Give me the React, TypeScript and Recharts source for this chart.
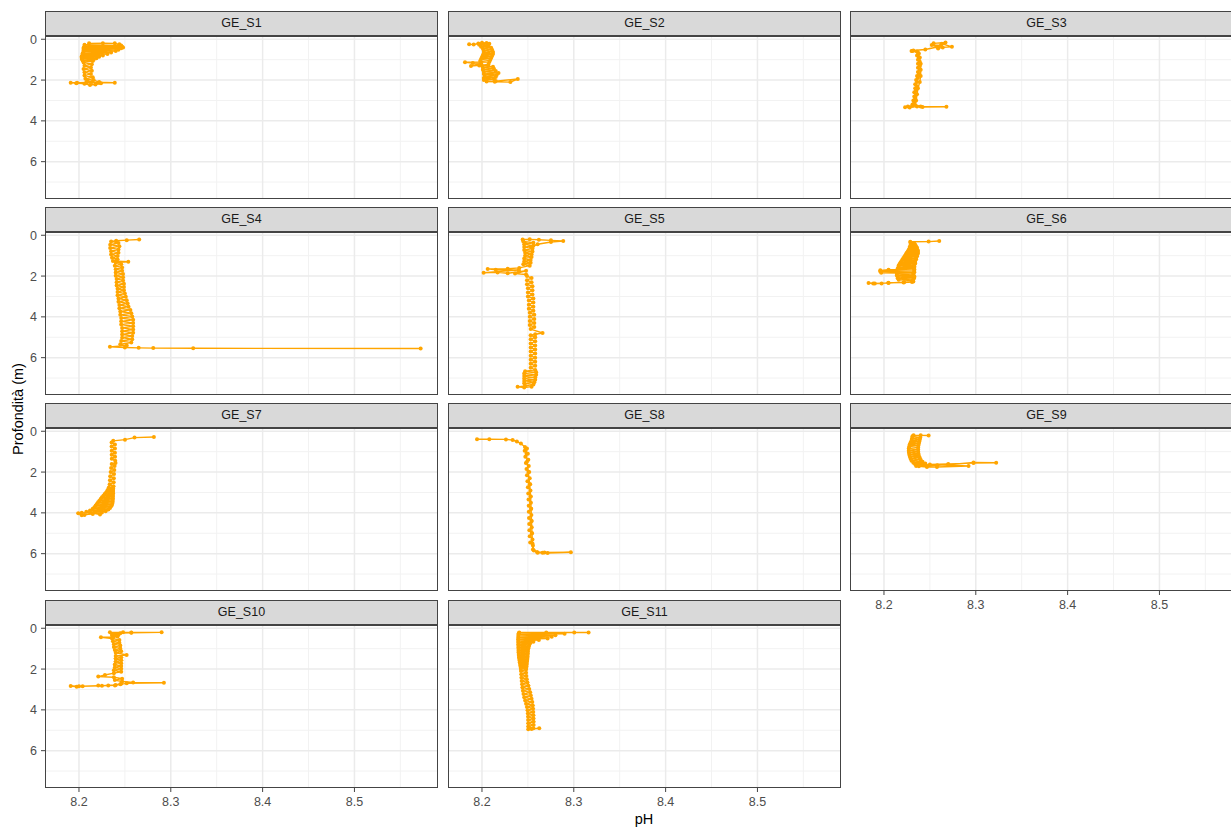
import { ScatterChart, Scatter, XAxis, YAxis, CartesianGrid } from "recharts"

type Pt = [number, number] // [pH, depth m]

const GE_S1: Pt[] = [
  [8.211, 0.2], [8.226, 0.19], [8.239, 0.2], [8.244, 0.25], [8.248, 0.4],
  [8.206, 0.27], [8.246, 0.3], [8.206, 0.34], [8.247, 0.37], [8.205, 0.41],
  [8.246, 0.44], [8.205, 0.48], [8.243, 0.51], [8.205, 0.55], [8.24, 0.58],
  [8.205, 0.62], [8.235, 0.65], [8.204, 0.69], [8.231, 0.72], [8.204, 0.76],
  [8.226, 0.79], [8.203, 0.83], [8.222, 0.86], [8.203, 0.9], [8.219, 0.93],
  [8.203, 0.97], [8.216, 1.0], [8.204, 1.04], [8.215, 1.07], [8.205, 1.14],
  [8.214, 1.22], [8.206, 1.3], [8.213, 1.38], [8.205, 1.46], [8.214, 1.54],
  [8.206, 1.62], [8.213, 1.7], [8.206, 1.78], [8.215, 1.86], [8.207, 1.94],
  [8.216, 2.0], [8.222, 2.1], [8.239, 2.13], [8.222, 2.13], [8.208, 2.12],
  [8.198, 2.13], [8.191, 2.13], [8.197, 2.15], [8.206, 2.18], [8.212, 2.24],
  [8.218, 2.22], [8.224, 2.16], [8.214, 2.1], [8.209, 2.02],
]

const GE_S2: Pt[] = [
  [8.186, 0.25], [8.191, 0.26], [8.196, 0.21], [8.2, 0.17], [8.205, 0.18],
  [8.208, 0.22], [8.197, 0.27], [8.207, 0.32], [8.199, 0.37], [8.21, 0.42],
  [8.201, 0.47], [8.211, 0.52], [8.202, 0.57], [8.212, 0.62], [8.202, 0.67],
  [8.212, 0.72], [8.201, 0.77], [8.211, 0.82], [8.2, 0.87], [8.21, 0.92],
  [8.199, 0.97], [8.209, 1.02], [8.198, 1.07], [8.208, 1.12], [8.1815, 1.13],
  [8.19, 1.16], [8.199, 1.18], [8.188, 1.31], [8.197, 1.28], [8.207, 1.24],
  [8.2, 1.3], [8.212, 1.35], [8.201, 1.4], [8.213, 1.45], [8.201, 1.5],
  [8.215, 1.55], [8.202, 1.6], [8.218, 1.65], [8.202, 1.7], [8.216, 1.75],
  [8.203, 1.8], [8.215, 1.85], [8.202, 1.9], [8.213, 1.95], [8.202, 2.0],
  [8.215, 2.05], [8.239, 1.95], [8.231, 2.1], [8.214, 2.08], [8.205, 2.07],
]

const GE_S3: Pt[] = [
  [8.254, 0.2], [8.267, 0.16], [8.263, 0.22], [8.274, 0.37], [8.264, 0.4],
  [8.259, 0.45], [8.262, 0.3], [8.252, 0.28], [8.258, 0.38], [8.245, 0.5],
  [8.232, 0.55], [8.23, 0.58], [8.236, 0.6], [8.238, 0.7], [8.236, 0.8],
  [8.238, 0.9], [8.237, 1.0], [8.239, 1.1], [8.237, 1.2], [8.239, 1.3],
  [8.237, 1.4], [8.239, 1.5], [8.237, 1.6], [8.238, 1.7], [8.236, 1.8],
  [8.237, 1.9], [8.235, 2.0], [8.236, 2.1], [8.234, 2.2], [8.236, 2.3],
  [8.234, 2.4], [8.235, 2.5], [8.233, 2.6], [8.235, 2.7], [8.233, 2.8],
  [8.234, 2.9], [8.232, 3.0], [8.233, 3.1], [8.231, 3.2], [8.231, 3.26],
  [8.226, 3.3], [8.223, 3.33], [8.228, 3.34], [8.236, 3.3], [8.242, 3.32],
  [8.268, 3.31], [8.24, 3.3], [8.234, 3.22], [8.235, 3.0], [8.236, 2.7],
  [8.237, 2.4], [8.239, 2.1], [8.24, 1.8], [8.24, 1.5], [8.24, 1.2],
  [8.239, 0.9], [8.237, 0.65], [8.231, 0.58],
]

const GE_S4: Pt[] = [
  [8.2656, 0.21], [8.252, 0.24], [8.2405, 0.27], [8.235, 0.3], [8.243, 0.38],
  [8.234, 0.46], [8.244, 0.54], [8.234, 0.62], [8.243, 0.7], [8.235, 0.78],
  [8.243, 0.86], [8.235, 0.94], [8.242, 1.02], [8.236, 1.1], [8.242, 1.18],
  [8.237, 1.26], [8.2537, 1.3], [8.24, 1.34], [8.246, 1.42], [8.239, 1.5],
  [8.247, 1.58], [8.24, 1.66], [8.247, 1.74], [8.24, 1.82], [8.248, 1.9],
  [8.24, 1.98], [8.248, 2.06], [8.241, 2.14], [8.248, 2.22], [8.241, 2.3],
  [8.249, 2.38], [8.241, 2.46], [8.249, 2.54], [8.242, 2.62], [8.249, 2.7],
  [8.242, 2.78], [8.25, 2.86], [8.242, 2.94], [8.251, 3.02], [8.243, 3.1],
  [8.252, 3.18], [8.243, 3.26], [8.253, 3.34], [8.244, 3.42], [8.254, 3.5],
  [8.244, 3.58], [8.256, 3.66], [8.245, 3.74], [8.257, 3.82], [8.245, 3.9],
  [8.258, 3.98], [8.246, 4.06], [8.259, 4.14], [8.246, 4.22], [8.259, 4.3],
  [8.246, 4.38], [8.259, 4.46], [8.247, 4.54], [8.259, 4.62], [8.247, 4.7],
  [8.259, 4.78], [8.247, 4.86], [8.258, 4.94], [8.247, 5.02], [8.258, 5.1],
  [8.246, 5.18], [8.257, 5.26], [8.245, 5.34], [8.252, 5.4], [8.2337, 5.47],
  [8.25, 5.5], [8.265, 5.52], [8.2809, 5.53], [8.3244, 5.54], [8.5721, 5.55],
]

const GE_S5: Pt[] = [
  [8.2443, 0.21], [8.252, 0.2], [8.262, 0.22], [8.2751, 0.25], [8.2885, 0.28],
  [8.2751, 0.33], [8.2606, 0.44], [8.2533, 0.57], [8.245, 0.3], [8.256, 0.37],
  [8.246, 0.44], [8.256, 0.51], [8.246, 0.58], [8.255, 0.65], [8.246, 0.72],
  [8.255, 0.79], [8.247, 0.86], [8.254, 0.93], [8.247, 1.0], [8.254, 1.07],
  [8.246, 1.14], [8.253, 1.21], [8.246, 1.28], [8.253, 1.35], [8.245, 1.42],
  [8.252, 1.49], [8.2406, 1.6], [8.228, 1.64], [8.2062, 1.65], [8.215, 1.69],
  [8.24, 1.7], [8.2018, 1.84], [8.217, 1.82], [8.228, 1.86], [8.2406, 1.79],
  [8.248, 1.74], [8.236, 1.88], [8.248, 1.92], [8.249, 2.0], [8.254, 2.1],
  [8.249, 2.2], [8.254, 2.3], [8.249, 2.4], [8.255, 2.5], [8.25, 2.6],
  [8.255, 2.7], [8.25, 2.8], [8.255, 2.9], [8.25, 3.0], [8.256, 3.1],
  [8.251, 3.2], [8.256, 3.3], [8.251, 3.4], [8.256, 3.5], [8.251, 3.6],
  [8.256, 3.7], [8.252, 3.8], [8.257, 3.9], [8.252, 4.0], [8.257, 4.1],
  [8.252, 4.2], [8.257, 4.3], [8.252, 4.4], [8.257, 4.5], [8.253, 4.6],
  [8.266, 4.79], [8.258, 4.85], [8.253, 4.9], [8.258, 5.0], [8.253, 5.1],
  [8.258, 5.2], [8.253, 5.3], [8.258, 5.4], [8.253, 5.5], [8.258, 5.6],
  [8.253, 5.7], [8.258, 5.8], [8.253, 5.9], [8.258, 6.0], [8.253, 6.1],
  [8.258, 6.2], [8.253, 6.3], [8.258, 6.4], [8.253, 6.5], [8.258, 6.6],
  [8.247, 6.66], [8.259, 6.72], [8.246, 6.78], [8.259, 6.84], [8.246, 6.9],
  [8.258, 6.96], [8.246, 7.02], [8.258, 7.08], [8.246, 7.14], [8.257, 7.2],
  [8.246, 7.26], [8.256, 7.32], [8.247, 7.38], [8.2388, 7.43], [8.246, 7.46],
  [8.254, 7.42],
]

const GE_S6: Pt[] = [
  [8.2602, 0.28], [8.2486, 0.31], [8.2286, 0.32], [8.229, 0.36], [8.233, 0.4],
  [8.229, 0.43], [8.234, 0.47], [8.229, 0.5], [8.235, 0.54], [8.228, 0.57],
  [8.236, 0.61], [8.228, 0.64], [8.236, 0.68], [8.227, 0.71], [8.237, 0.75],
  [8.226, 0.78], [8.237, 0.82], [8.225, 0.85], [8.237, 0.89], [8.224, 0.92],
  [8.236, 0.96], [8.223, 0.99], [8.236, 1.03], [8.222, 1.06], [8.235, 1.1],
  [8.221, 1.13], [8.235, 1.17], [8.22, 1.2], [8.234, 1.24], [8.219, 1.27],
  [8.234, 1.31], [8.218, 1.34], [8.234, 1.38], [8.217, 1.41], [8.233, 1.45],
  [8.216, 1.48], [8.233, 1.52], [8.216, 1.55], [8.233, 1.59], [8.215, 1.62],
  [8.233, 1.66], [8.205, 1.69], [8.196, 1.72], [8.233, 1.75], [8.196, 1.78],
  [8.233, 1.81], [8.197, 1.84], [8.232, 1.87], [8.214, 1.9], [8.232, 1.94],
  [8.214, 1.97], [8.233, 2.01], [8.215, 2.04], [8.233, 2.08], [8.215, 2.11],
  [8.232, 2.15], [8.216, 2.18], [8.231, 2.22], [8.2305, 2.29], [8.2213, 2.32],
  [8.2047, 2.33], [8.1974, 2.37], [8.1883, 2.37], [8.1832, 2.34], [8.19, 2.36],
  [8.205, 2.34], [8.222, 2.3], [8.232, 2.27],
]

const GE_S7: Pt[] = [
  [8.2816, 0.28], [8.2605, 0.31], [8.2501, 0.41], [8.2373, 0.47], [8.2355, 0.55],
  [8.2392, 0.65], [8.2355, 0.75], [8.2392, 0.85], [8.2356, 0.95], [8.2392, 1.05],
  [8.2356, 1.15], [8.2393, 1.25], [8.2357, 1.35], [8.2395, 1.45], [8.2398, 1.55],
  [8.2356, 1.6], [8.2388, 1.7], [8.235, 1.8], [8.2385, 1.9], [8.2345, 2.0],
  [8.2382, 2.1], [8.234, 2.2], [8.238, 2.3], [8.2337, 2.4], [8.2378, 2.5],
  [8.2334, 2.6], [8.2376, 2.7], [8.2325, 2.76], [8.2372, 2.8], [8.2318, 2.84],
  [8.2372, 2.88], [8.2308, 2.92], [8.2371, 2.96], [8.2295, 3.0], [8.2371, 3.04],
  [8.228, 3.08], [8.237, 3.12], [8.2266, 3.16], [8.237, 3.2], [8.225, 3.24],
  [8.2369, 3.28], [8.2236, 3.32], [8.2368, 3.36], [8.2222, 3.4], [8.2366, 3.44],
  [8.2208, 3.48], [8.2365, 3.52], [8.2195, 3.56], [8.236, 3.6], [8.2182, 3.64],
  [8.235, 3.68], [8.2168, 3.72], [8.2338, 3.76], [8.215, 3.8], [8.232, 3.84],
  [8.212, 3.88], [8.229, 3.92], [8.208, 3.95], [8.225, 3.98], [8.215, 4.05],
  [8.206, 4.1], [8.203, 4.12], [8.1992, 4.02], [8.203, 4.0], [8.212, 3.98],
  [8.2229, 4.08],
]

const GE_S8: Pt[] = [
  [8.1946, 0.39], [8.208, 0.39], [8.2261, 0.4], [8.2334, 0.43], [8.238, 0.5],
  [8.2424, 0.6], [8.2468, 0.77], [8.2465, 0.95], [8.25, 1.1], [8.2472, 1.25],
  [8.2505, 1.4], [8.2478, 1.55], [8.251, 1.7], [8.2485, 1.85], [8.2515, 2.0],
  [8.249, 2.15], [8.252, 2.3], [8.2495, 2.45], [8.2525, 2.6], [8.25, 2.75],
  [8.2528, 2.9], [8.2504, 3.05], [8.253, 3.2], [8.2507, 3.35], [8.2533, 3.5],
  [8.2509, 3.65], [8.2536, 3.8], [8.251, 3.95], [8.2538, 4.1], [8.2512, 4.25],
  [8.254, 4.4], [8.2514, 4.55], [8.2542, 4.7], [8.2516, 4.85], [8.2544, 5.0],
  [8.252, 5.15], [8.255, 5.3], [8.2525, 5.45], [8.2555, 5.6], [8.2565, 5.85],
  [8.2606, 5.96], [8.266, 5.95], [8.2715, 5.97], [8.2968, 5.93], [8.268, 5.94],
  [8.26, 5.92], [8.2555, 5.8], [8.255, 5.5], [8.2545, 5.0], [8.254, 4.4],
  [8.2535, 3.8], [8.253, 3.2], [8.252, 2.6], [8.2505, 2.0], [8.249, 1.5],
  [8.2485, 1.1], [8.249, 0.85],
]

const GE_S9: Pt[] = [
  [8.2486, 0.21], [8.24, 0.2], [8.2322, 0.2], [8.231, 0.25], [8.2395, 0.3],
  [8.2305, 0.35], [8.239, 0.4], [8.23, 0.45], [8.2385, 0.5], [8.229, 0.55],
  [8.238, 0.6], [8.228, 0.65], [8.2375, 0.7], [8.2275, 0.75], [8.2372, 0.8],
  [8.227, 0.85], [8.2372, 0.9], [8.227, 0.95], [8.2373, 1.0], [8.2272, 1.05],
  [8.2376, 1.1], [8.2276, 1.15], [8.238, 1.2], [8.2282, 1.25], [8.239, 1.3],
  [8.229, 1.35], [8.24, 1.4], [8.23, 1.45], [8.242, 1.5], [8.232, 1.54],
  [8.245, 1.58], [8.234, 1.62], [8.258, 1.66], [8.235, 1.7], [8.27, 1.64],
  [8.2975, 1.53], [8.3222, 1.54], [8.2975, 1.56], [8.27, 1.6], [8.25, 1.63],
  [8.2921, 1.7], [8.2577, 1.75], [8.2468, 1.75], [8.238, 1.72],
]

const GE_S10: Pt[] = [
  [8.2337, 0.2], [8.248, 0.2], [8.257, 0.21], [8.29, 0.2], [8.257, 0.22],
  [8.245, 0.24], [8.236, 0.28], [8.243, 0.32], [8.236, 0.36], [8.242, 0.4],
  [8.2373, 0.44], [8.2239, 0.44], [8.236, 0.5], [8.244, 0.57], [8.237, 0.64],
  [8.244, 0.71], [8.238, 0.78], [8.245, 0.85], [8.238, 0.92], [8.245, 0.99],
  [8.239, 1.06], [8.246, 1.13], [8.24, 1.2], [8.2519, 1.31], [8.24, 1.36],
  [8.246, 1.43], [8.24, 1.5], [8.246, 1.57], [8.24, 1.64], [8.246, 1.71],
  [8.239, 1.78], [8.246, 1.85], [8.239, 1.92], [8.246, 1.99], [8.238, 2.06],
  [8.246, 2.13], [8.238, 2.2], [8.2283, 2.29], [8.221, 2.37], [8.238, 2.4],
  [8.247, 2.47], [8.239, 2.54], [8.247, 2.61], [8.259, 2.66], [8.2925, 2.67],
  [8.252, 2.7], [8.245, 2.75], [8.2392, 2.8], [8.2319, 2.81], [8.221, 2.81],
  [8.204, 2.84], [8.1975, 2.87], [8.191, 2.83], [8.2, 2.84], [8.225, 2.82],
  [8.24, 2.78], [8.246, 2.72],
]

const GE_S11: Pt[] = [
  [8.3161, 0.21], [8.3005, 0.21], [8.27, 0.21], [8.2406, 0.21], [8.24, 0.24],
  [8.29, 0.27], [8.2398, 0.3], [8.28, 0.34], [8.2396, 0.38], [8.276, 0.42],
  [8.2395, 0.46], [8.2715, 0.5], [8.2395, 0.54], [8.262, 0.58], [8.2395, 0.62],
  [8.256, 0.66], [8.2396, 0.7], [8.2525, 0.74], [8.2396, 0.78], [8.2515, 0.82],
  [8.2397, 0.86], [8.251, 0.9], [8.2397, 0.94], [8.2505, 0.98], [8.2398, 1.02],
  [8.25, 1.06], [8.2398, 1.1], [8.25, 1.14], [8.2399, 1.18], [8.2498, 1.22],
  [8.24, 1.26], [8.2497, 1.3], [8.2402, 1.34], [8.2496, 1.38], [8.2404, 1.42],
  [8.2495, 1.46], [8.2406, 1.5], [8.2493, 1.54], [8.2409, 1.58], [8.249, 1.62],
  [8.2412, 1.66], [8.2488, 1.7], [8.2415, 1.74], [8.2486, 1.78], [8.2418, 1.82],
  [8.2484, 1.86], [8.2421, 1.9], [8.2482, 1.94], [8.2423, 1.98], [8.248, 2.02],
  [8.2425, 2.1], [8.248, 2.18], [8.2428, 2.26], [8.2483, 2.34], [8.243, 2.42],
  [8.2488, 2.5], [8.2433, 2.58], [8.2495, 2.66], [8.2437, 2.74], [8.2505, 2.82],
  [8.2441, 2.9], [8.2515, 2.98], [8.2446, 3.06], [8.2525, 3.14], [8.2452, 3.22],
  [8.2532, 3.3], [8.246, 3.38], [8.254, 3.46], [8.247, 3.54], [8.2548, 3.62],
  [8.248, 3.7], [8.2553, 3.78], [8.249, 3.86], [8.2556, 3.94], [8.2497, 4.02],
  [8.2558, 4.1], [8.25, 4.18], [8.256, 4.26], [8.2502, 4.34], [8.2561, 4.42],
  [8.2503, 4.5], [8.2562, 4.58], [8.2504, 4.66], [8.2562, 4.74], [8.2504, 4.82],
  [8.256, 4.9], [8.2504, 4.95], [8.2624, 4.9], [8.254, 4.94],
]

const STATIONS: { name: string; data: Pt[] }[] = [
  { name: "GE_S1", data: GE_S1 },
  { name: "GE_S2", data: GE_S2 },
  { name: "GE_S3", data: GE_S3 },
  { name: "GE_S4", data: GE_S4 },
  { name: "GE_S5", data: GE_S5 },
  { name: "GE_S6", data: GE_S6 },
  { name: "GE_S7", data: GE_S7 },
  { name: "GE_S8", data: GE_S8 },
  { name: "GE_S9", data: GE_S9 },
  { name: "GE_S10", data: GE_S10 },
  { name: "GE_S11", data: GE_S11 },
]

const PH_TICKS = [8.2, 8.3, 8.4, 8.5]
const PH_MINOR = [8.25, 8.35, 8.45, 8.55]
const DEPTH_TICKS = [0, 2, 4, 6]
const DEPTH_MINOR = [1, 3, 5, 7]
const PH_DOMAIN: [number, number] = [8.163, 8.591]
const DEPTH_DOMAIN: [number, number] = [-0.16, 7.83]

// facet grid geometry (px)
const COL_LEFT = [45, 448, 850]
const PANEL_TOP = [36, 232, 428, 625]
const PANEL_W = 393
const PANEL_H = 163
const STRIP_H = 25
const Y_AXIS_W = 45
const X_AXIS_H = 30

const ORANGE = "#FFA500"
const FONT = '"Liberation Sans", Arial, sans-serif'
const FRAME = "#444444"

const Dot = (p: any) => <circle cx={p.cx} cy={p.cy} r={2} fill={ORANGE} />
const NoTick = () => <g />

function Panel({ name, data, col, row, showX, showY }: {
  name: string
  data: Pt[]
  col: number
  row: number
  showX: boolean
  showY: boolean
}) {
  const left = COL_LEFT[col]
  const top = PANEL_TOP[row]
  const points = data.map(([ph, depth]) => ({ ph, depth }))
  const tick = { fill: "#4D4D4D", fontSize: 12.5, fontFamily: FONT }

  return (
    <>
      <div style={{ position: "absolute", left: left - Y_AXIS_W, top: top - STRIP_H }}>
        <ScatterChart
          width={Y_AXIS_W + PANEL_W}
          height={STRIP_H + PANEL_H + X_AXIS_H}
          margin={{ top: STRIP_H, right: 0, bottom: 0, left: 0 }}
        >
          <CartesianGrid stroke="#F2F2F2" strokeWidth={1} verticalValues={PH_MINOR} horizontalValues={DEPTH_MINOR} />
          <CartesianGrid stroke="#EBEBEB" strokeWidth={1.5} verticalValues={PH_TICKS} horizontalValues={DEPTH_TICKS} />
          <XAxis
            type="number"
            dataKey="ph"
            domain={PH_DOMAIN}
            ticks={PH_TICKS}
            interval={0}
            allowDataOverflow
            height={X_AXIS_H}
            axisLine={false}
            tickLine={{ stroke: showX ? FRAME : "none" }}
            tick={showX ? tick : NoTick}
            tickSize={4}
            tickMargin={5}
          />
          <YAxis
            type="number"
            dataKey="depth"
            domain={DEPTH_DOMAIN}
            ticks={DEPTH_TICKS}
            interval={0}
            reversed
            allowDataOverflow
            width={Y_AXIS_W}
            axisLine={false}
            tickLine={{ stroke: showY ? FRAME : "none" }}
            tick={showY ? tick : NoTick}
            tickSize={4}
            tickMargin={4}
          />
          <Scatter
            data={points}
            line={{ stroke: ORANGE, strokeWidth: 1.4 }}
            lineType="joint"
            fill={ORANGE}
            shape={Dot}
            isAnimationActive={false}
          />
        </ScatterChart>
      </div>
      <div
        style={{
          position: "absolute",
          left,
          top: top - STRIP_H,
          width: PANEL_W,
          height: STRIP_H,
          boxSizing: "border-box",
          background: "#D9D9D9",
          border: `1px solid ${FRAME}`,
          color: "#1A1A1A",
          fontFamily: FONT,
          fontSize: 12.5,
          lineHeight: `${STRIP_H - 2}px`,
          textAlign: "center",
        }}
      >
        {name}
      </div>
      <div
        style={{
          position: "absolute",
          left,
          top,
          width: PANEL_W,
          height: PANEL_H,
          boxSizing: "border-box",
          border: `1px solid ${FRAME}`,
          pointerEvents: "none",
        }}
      />
    </>
  )
}

export default function App() {
  return (
    <div
      style={{
        position: "relative",
        width: 1231,
        height: 827,
        overflow: "hidden",
        background: "#FFFFFF",
        fontFamily: FONT,
      }}
    >
      <style>{"html, body { margin: 0; padding: 0; overflow: hidden; }"}</style>
      {STATIONS.map((s, i) => {
        const col = i % 3
        const row = Math.floor(i / 3)
        const showX = row === 3 || (row === 2 && col === 2)
        return (
          <Panel key={s.name} name={s.name} data={s.data} col={col} row={row} showX={showX} showY={col === 0} />
        )
      })}
      <div
        style={{
          position: "absolute",
          left: 18,
          top: 409,
          transform: "translate(-50%, -50%) rotate(-90deg)",
          whiteSpace: "nowrap",
          fontSize: 14.5,
          color: "#000000",
        }}
      >
        Profondità (m)
      </div>
      <div
        style={{
          position: "absolute",
          left: 644,
          top: 819,
          transform: "translate(-50%, -50%)",
          fontSize: 14.5,
          lineHeight: "16px",
          color: "#000000",
        }}
      >
        pH
      </div>
    </div>
  )
}
